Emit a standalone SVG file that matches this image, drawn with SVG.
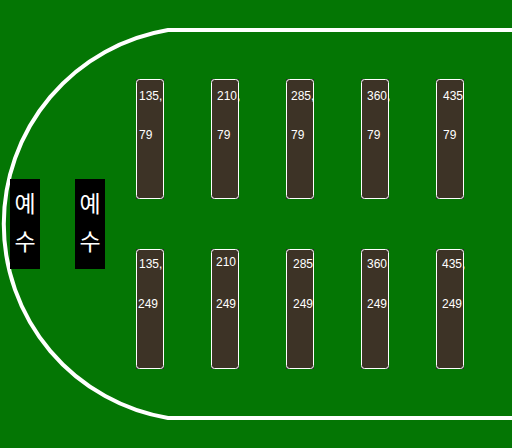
<svg xmlns="http://www.w3.org/2000/svg" width="512" height="448" viewBox="0 0 512 448">
<style>
.seat-o{fill:#2a2a2a}
.seat{fill:#3d3326;stroke:#ffffff;stroke-width:1}
.t{font-family:"Liberation Sans",Arial,sans-serif;font-size:12px;fill:#ffffff}
.k{font-family:"Noto Sans CJK KR",sans-serif;font-size:23px;fill:#ffffff;text-anchor:middle}
.track{fill:none;stroke:#ffffff;stroke-width:4}
</style>
<rect x="0" y="0" width="512" height="448" fill="#047604"/>
<g id="connectors"></g>
<g id="track">
<path class="track" d="M512,30 L168,30 A196.7,196.7 0 0 0 168,418 L512,418"/>
</g>
<g id="label-1"><rect x="10" y="179" width="30" height="90" fill="#000"/><text class="k" x="25" y="212">예</text><text class="k" x="25" y="250">수</text></g>
<g id="label-2"><rect x="75" y="179" width="30" height="90" fill="#000"/><text class="k" x="90" y="212">예</text><text class="k" x="90" y="250">수</text></g>
<g id="seat-135-79"><rect class="seat-o" x="136" y="79" width="28" height="120"/><rect class="seat" x="136.5" y="79.5" width="27" height="119" rx="3"/><text class="t" x="139" y="99.5">135,</text><text class="t" x="139" y="138.5">79</text></g>
<g id="seat-210-79"><rect class="seat-o" x="211" y="79" width="28" height="120"/><rect class="seat" x="211.5" y="79.5" width="27" height="119" rx="3"/><text class="t" x="217" y="99.5">210,</text><text class="t" x="217" y="138.5">79</text></g>
<g id="seat-285-79"><rect class="seat-o" x="286" y="79" width="28" height="120"/><rect class="seat" x="286.5" y="79.5" width="27" height="119" rx="3"/><text class="t" x="291" y="99.5">285,</text><text class="t" x="291" y="138.5">79</text></g>
<g id="seat-360-79"><rect class="seat-o" x="361" y="79" width="28" height="120"/><rect class="seat" x="361.5" y="79.5" width="27" height="119" rx="3"/><text class="t" x="367" y="99.5">360,</text><text class="t" x="367" y="138.5">79</text></g>
<g id="seat-435-79"><rect class="seat-o" x="436" y="79" width="28" height="120"/><rect class="seat" x="436.5" y="79.5" width="27" height="119" rx="3"/><text class="t" x="443" y="99.5">435</text><text class="t" x="443" y="138.5">79</text></g>
<g id="seat-135-249"><rect class="seat-o" x="136" y="249" width="28" height="120"/><rect class="seat" x="136.5" y="249.5" width="27" height="119" rx="3"/><text class="t" x="139" y="267.5">135,</text><text class="t" x="138" y="307.5">249</text></g>
<g id="seat-210-249"><rect class="seat-o" x="211" y="249" width="28" height="120"/><rect class="seat" x="211.5" y="249.5" width="27" height="119" rx="3"/><text class="t" x="216" y="265.5">210</text><text class="t" x="216" y="307.5">249</text></g>
<g id="seat-285-249"><rect class="seat-o" x="286" y="249" width="28" height="120"/><rect class="seat" x="286.5" y="249.5" width="27" height="119" rx="3"/><text class="t" x="293" y="267.5">285</text><text class="t" x="293" y="307.5">249</text></g>
<g id="seat-360-249"><rect class="seat-o" x="361" y="249" width="28" height="120"/><rect class="seat" x="361.5" y="249.5" width="27" height="119" rx="3"/><text class="t" x="367" y="267.5">360</text><text class="t" x="367" y="307.5">249</text></g>
<g id="seat-435-249"><rect class="seat-o" x="436" y="249" width="28" height="120"/><rect class="seat" x="436.5" y="249.5" width="27" height="119" rx="3"/><text class="t" x="442" y="267.5">435,</text><text class="t" x="442" y="307.5">249</text></g>
</svg>
